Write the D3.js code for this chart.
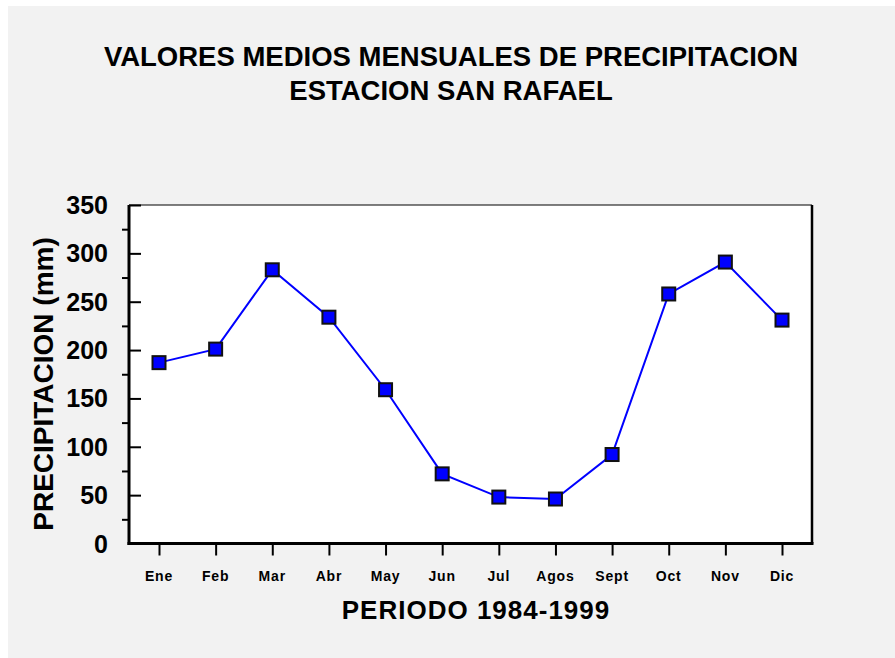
<!DOCTYPE html>
<html lang="es">
<head>
  <meta charset="UTF-8">
  <title>Precipitacion San Rafael</title>
  <style>
    body { margin: 0; background: #fff; }
    svg  { display: block; font-family: "Liberation Sans", Arial, sans-serif; }
    .title  { font-size: 27.5px; font-weight: bold; }
    .xTitle { font-size: 26px; font-weight: bold; letter-spacing: 1px; }
    .yTitle { font-size: 28px; font-weight: bold; }
    .ylab  { font-size: 25px; font-weight: bold; }
    .xlab  { font-size: 14px; font-weight: bold; letter-spacing: 0.8px; }
    .serie { fill: none; stroke: #0000ff; stroke-width: 2px; }
    .mark  { fill: #0000ff; stroke: #111; stroke-width: 2px; }
  </style>
</head>
<body>
  <svg id="chart" width="895" height="658"></svg>

  <script src="https://d3js.org/d3.v7.min.js"></script>
  <script>
    // ---- datos ----
    const meses = ['Ene','Feb','Mar','Abr','May','Jun','Jul','Agos','Sept','Oct','Nov','Dic'];
    const precip = [187, 201, 283, 234, 159, 72, 48, 46, 92, 258, 291, 231];
    const yTicks = [0, 50, 100, 150, 200, 250, 300, 350];
    const titulo = ['VALORES MEDIOS MENSUALES DE PRECIPITACION', 'ESTACION SAN RAFAEL'];

    const data = meses.map((m, i) => ({ mes: m, valor: precip[i] }));

    // ---- dimensiones ----
    const margin = { top: 205, left: 129, right: 83, bottom: 114.5 },
          W = 895, H = 658,
          width = W - margin.left - margin.right,
          height = H - margin.top - margin.bottom;

    const svg = d3.select('#chart');

    // fondo gris
    svg.append('rect')
       .attr('x', 8).attr('y', 6)
       .attr('width', W - 8).attr('height', H - 6)
       .attr('fill', '#f2f2f2');

    // titulo
    svg.append('text')
       .attr('class', 'title')
       .attr('text-anchor', 'middle')
       .selectAll('tspan')
       .data(titulo)
       .enter().append('tspan')
       .attr('x', 451)
       .attr('y', (d, i) => 66 + i * 34)
       .text(d => d);

    const g = svg.append('g')
                 .attr('transform', `translate(${margin.left},${margin.top})`);

    // escalas
    const x = d3.scalePoint()
                .domain(meses)
                .range([30, width - 30]);

    const y = d3.scaleLinear()
                .domain([0, 350])
                .range([height, 0]);

    // area de trazado
    g.append('rect')
     .attr('width', width).attr('height', height)
     .attr('fill', '#fff');

    // borde superior fino
    g.append('line')
     .attr('x1', 0).attr('x2', width)
     .attr('y1', 0).attr('y2', 0)
     .attr('stroke', '#000').attr('stroke-width', 1);

    // borde derecho
    g.append('line')
     .attr('x1', width).attr('x2', width)
     .attr('y1', 0).attr('y2', height)
     .attr('stroke', '#000').attr('stroke-width', 2.5);

    // eje Y: ticks mayores hacia dentro
    const yAxis = g.append('g')
      .call(d3.axisRight(y).tickValues(yTicks).tickSize(12).tickFormat(''));
    yAxis.select('.domain').remove();
    yAxis.selectAll('line').attr('stroke-width', 2);

    // ticks menores hacia fuera
    g.append('g')
     .call(d3.axisLeft(y).tickValues(d3.range(25, 350, 50)).tickSize(7).tickFormat(''))
     .call(a => a.select('.domain').remove())
     .selectAll('line').attr('stroke-width', 2);

    // linea del eje Y
    g.append('line')
     .attr('x1', 0).attr('x2', 0)
     .attr('y1', 0).attr('y2', height + 1.5)
     .attr('stroke', '#000').attr('stroke-width', 3);

    // etiquetas Y
    g.selectAll('text.ylab')
     .data(yTicks)
     .enter().append('text')
     .attr('class', 'ylab')
     .attr('x', -21)
     .attr('y', d => y(d))
     .attr('dy', '0.36em')
     .attr('text-anchor', 'end')
     .text(d => d);

    // eje X
    const xAxis = g.append('g')
      .attr('transform', `translate(0,${height})`)
      .call(d3.axisBottom(x).tickSize(12).tickFormat(''));
    xAxis.select('.domain').remove();
    xAxis.selectAll('line').attr('stroke-width', 2);

    g.append('line')
     .attr('x1', -1.5).attr('x2', width + 1.5)
     .attr('y1', height).attr('y2', height)
     .attr('stroke', '#000').attr('stroke-width', 3);

    g.selectAll('text.xlab')
     .data(meses)
     .enter().append('text')
     .attr('class', 'xlab')
     .attr('x', d => x(d))
     .attr('y', height + 37.5)
     .attr('text-anchor', 'middle')
     .text(d => d);

    // titulos de ejes
    svg.append('text')
       .attr('class', 'xTitle')
       .attr('x', 476).attr('y', 619)
       .attr('text-anchor', 'middle')
       .text('PERIODO 1984-1999');

    svg.append('text')
       .attr('class', 'yTitle')
       .attr('transform', 'translate(53,384) rotate(-90)')
       .attr('text-anchor', 'middle')
       .text('PRECIPITACION (mm)');

    // serie
    const line = d3.line()
                   .x(d => x(d.mes))
                   .y(d => y(d.valor));

    g.append('path')
     .datum(data)
     .attr('class', 'serie')
     .attr('d', line);

    const s = 13;
    g.selectAll('rect.mark')
     .data(data)
     .enter().append('rect')
     .attr('class', 'mark')
     .attr('x', d => x(d.mes) - s / 2)
     .attr('y', d => y(d.valor) - s / 2)
     .attr('width', s)
     .attr('height', s);
  </script>
</body>
</html>
